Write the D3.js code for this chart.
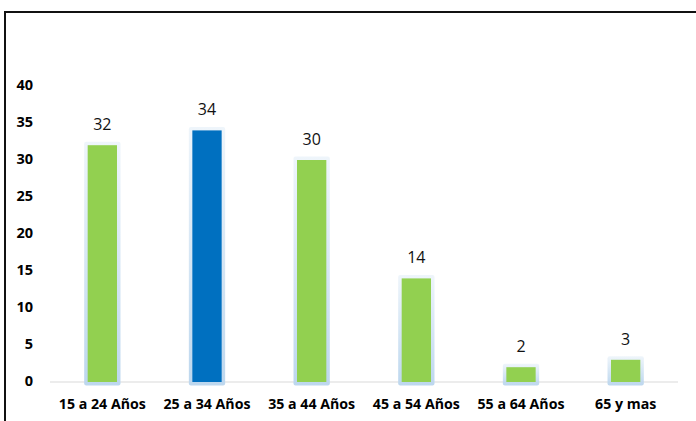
<!DOCTYPE html>
<html lang="es">
<head>
    <meta charset="UTF-8">
    <script src="https://cdn.jsdelivr.net/npm/d3@7/dist/d3.min.js"></script>
    <title>Edades</title>
    <style>
        body { margin: 0; background: #fff; }
        text { font-family: "Open Sans", "Noto Sans", sans-serif; }
    </style>
</head>
<body>
<script>

    const categories = ["15 a 24 Años", "25 a 34 Años", "35 a 44 Años", "45 a 54 Años", "55 a 64 Años", "65 y mas"];
    const values = [32, 34, 30, 14, 2, 3];
    const highlighted = ["25 a 34 Años"];
    const yTicks = [0, 5, 10, 15, 20, 25, 30, 35, 40];

    let width = 696, height = 421;
    let svg = d3.select("body")
        .append("svg")
        .attr("width", width)
        .attr("height", height)

    // marco: solo arriba e izquierda se ven
    svg.append("line").attr("x1", 4).attr("x2", width).attr("y1", 12).attr("y2", 12)
        .attr("stroke", "#111").attr("stroke-width", 2)
    svg.append("line").attr("x1", 5).attr("x2", 5).attr("y1", 12).attr("y2", height)
        .attr("stroke", "#111").attr("stroke-width", 2)

    let x = d3.scaleBand()
        .domain(categories)
        .range([50, 678])
        .paddingInner(0.72)
        .paddingOuter(0.36)

    let y = d3.scaleLinear()
        .domain([0, 40])
        .range([382, 86])

    let defs = svg.append("defs")
    let grad = defs.append("linearGradient")
        .attr("id", "glow")
        .attr("x1", 0).attr("x2", 0).attr("y1", 0).attr("y2", 1)
    grad.append("stop").attr("offset", "0%").attr("stop-color", "#bdd7ee").attr("stop-opacity", 0.25)
    grad.append("stop").attr("offset", "100%").attr("stop-color", "#bdd7ee").attr("stop-opacity", 1)

    // eje x (linea base gris)
    svg.append("line")
        .attr("x1", 50).attr("x2", 678)
        .attr("y1", y(0)).attr("y2", y(0))
        .attr("stroke", "#d9d9d9").attr("stroke-width", 1)

    // etiquetas del eje y
    let yAxis = svg.append("g")
        .attr("transform", "translate(33,-1.5)")
        .call(d3.axisLeft(y).tickValues(yTicks).tickSize(0).tickPadding(0))
    yAxis.select(".domain").remove()
    yAxis.selectAll("text")
        .attr("font-size", 14.5)
        .attr("font-weight", "bold")
        .attr("font-family", "'Open Sans', sans-serif")
        .attr("fill", "#000")

    // etiquetas del eje x
    let xAxis = svg.append("g")
        .attr("transform", "translate(0," + y(0) + ")")
        .call(d3.axisBottom(x).tickSize(0).tickPadding(17))
    xAxis.select(".domain").remove()
    xAxis.selectAll("text")
        .attr("font-size", 14.2)
        .attr("font-weight", "bold")
        .attr("font-family", "'Open Sans', sans-serif")
        .attr("fill", "#000")

    let bars = svg.selectAll(".bar")
        .data(categories)
        .enter()
        .append("g")
        .attr("class", "bar")

    // halo azul claro
    bars.append("rect")
        .attr("x", d => x(d) - 3.5)
        .attr("y", (d, i) => y(values[i]) - 3.5)
        .attr("width", x.bandwidth() + 7)
        .attr("height", (d, i) => y(0) - y(values[i]) + 7)
        .attr("rx", 2)
        .attr("fill", "url(#glow)")

    bars.append("rect")
        .attr("x", d => x(d))
        .attr("y", (d, i) => y(values[i]))
        .attr("width", x.bandwidth())
        .attr("height", (d, i) => y(0) - y(values[i]))
        .attr("fill", d => highlighted.includes(d) ? "#0070c0" : "#92d050")

    bars.append("text")
        .attr("x", d => x(d) + x.bandwidth() / 2)
        .attr("y", (d, i) => y(values[i]) - 15)
        .attr("text-anchor", "middle")
        .attr("font-size", 16)
        .attr("fill", "#111")
        .text((d, i) => values[i])

</script>
</body>
</html>
